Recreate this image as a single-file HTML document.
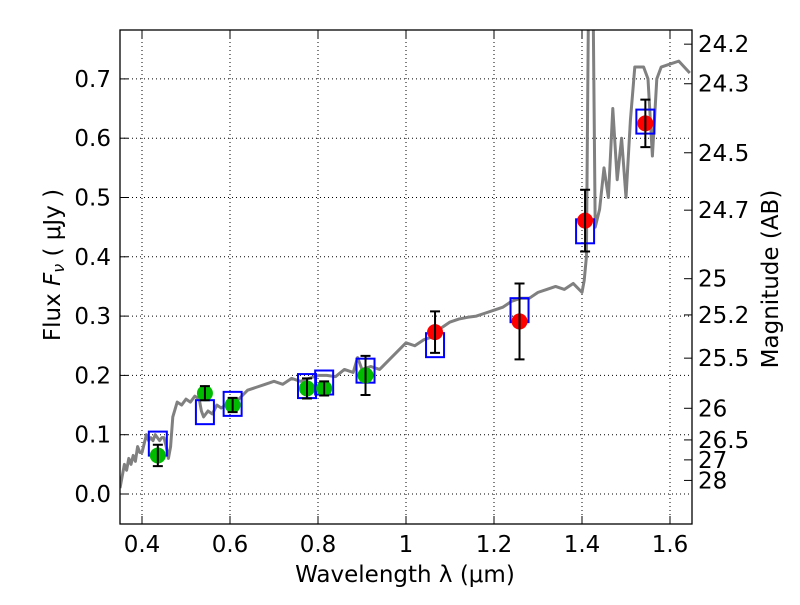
<!DOCTYPE html>
<html><head><meta charset="utf-8"><style>
body{margin:0;background:#fff;}
svg text{font-family:"DejaVu Sans","Liberation Sans",sans-serif;}
</style></head><body>
<svg id="chart" width="800" height="600" xmlns="http://www.w3.org/2000/svg">
<defs><clipPath id="clip"><rect x="120" y="30" width="572" height="494"/></clipPath></defs>
<rect x="0" y="0" width="800" height="600" fill="#fff"/>
<g id="grid"></g>
<g id="spec" clip-path="url(#clip)"></g>
<g id="marks" clip-path="url(#clip)"></g>
<rect x="120" y="30" width="572" height="494" fill="none" stroke="#000" stroke-width="1.3"/>
<g id="axes"></g>
<text x="405" y="582" font-size="23" text-anchor="middle">Wavelength  λ (μm)</text>
<text transform="translate(60,265) rotate(-90)" font-size="23" text-anchor="middle">Flux  <tspan font-style="italic">F</tspan><tspan font-size="16" font-style="italic" dy="4">ν</tspan><tspan dy="-4">  ( μJy )</tspan></text>
<text transform="translate(778,279) rotate(-90)" font-size="23" text-anchor="middle">Magnitude (AB)</text>
</svg>
<script>
const xTicks=[0.4,0.6,0.8,1,1.2,1.4,1.6];
const xTickLabels=["0.4","0.6","0.8","1","1.2","1.4","1.6"];
const yTicks=[0,0.1,0.2,0.3,0.4,0.5,0.6,0.7];
const yTickLabels=["0.0","0.1","0.2","0.3","0.4","0.5","0.6","0.7"];
const magTicks=[24.2,24.3,24.5,24.7,25,25.2,25.5,26,26.5,27,28];
const specWave=[0.35,0.355,0.36,0.365,0.37,0.375,0.38,0.385,0.39,0.395,0.40,0.405,0.41,0.415,0.42,0.425,0.43,0.435,0.44,0.445,0.45,0.455,0.46,0.465,0.47,0.48,0.49,0.50,0.51,0.52,0.53,0.535,0.54,0.55,0.56,0.57,0.58,0.59,0.60,0.62,0.64,0.66,0.68,0.70,0.72,0.74,0.76,0.78,0.80,0.82,0.84,0.86,0.88,0.89,0.90,0.92,0.94,0.96,0.98,1.00,1.02,1.04,1.06,1.08,1.10,1.12,1.14,1.16,1.18,1.20,1.22,1.24,1.26,1.28,1.30,1.32,1.34,1.36,1.38,1.40,1.405,1.41,1.415,1.425,1.43,1.44,1.45,1.46,1.47,1.48,1.49,1.50,1.51,1.52,1.54,1.55,1.56,1.57,1.58,1.60,1.62,1.645];
const specFlux=[0.01,0.03,0.05,0.04,0.06,0.05,0.065,0.055,0.08,0.07,0.07,0.085,0.10,0.09,0.095,0.09,0.10,0.095,0.09,0.095,0.095,0.08,0.06,0.08,0.13,0.155,0.15,0.16,0.155,0.165,0.16,0.14,0.13,0.14,0.135,0.15,0.145,0.15,0.15,0.16,0.175,0.18,0.185,0.19,0.185,0.195,0.19,0.195,0.20,0.20,0.198,0.21,0.205,0.23,0.21,0.215,0.21,0.225,0.24,0.255,0.25,0.26,0.265,0.28,0.29,0.295,0.298,0.30,0.305,0.31,0.315,0.325,0.33,0.33,0.34,0.345,0.35,0.345,0.355,0.34,0.36,0.40,0.85,0.85,0.45,0.48,0.55,0.50,0.65,0.53,0.60,0.50,0.63,0.72,0.72,0.70,0.57,0.70,0.72,0.725,0.73,0.71];
const obsWave=[0.436,0.543,0.606,0.775,0.814,0.908,1.066,1.258,1.407,1.544];
const obsFlux=[0.065,0.170,0.150,0.178,0.178,0.200,0.273,0.291,0.461,0.625];
const obsErr=[0.018,0.012,0.012,0.017,0.012,0.033,0.035,0.064,0.052,0.040];
const obsColor=["#00bb00","#00bb00","#00bb00","#00bb00","#00bb00","#00bb00","#ff0000","#ff0000","#ff0000","#ff0000"];
const modelFlux=[0.085,0.138,0.152,0.182,0.188,0.208,0.251,0.310,0.443,0.628];
const X=v=>142+(v-0.4)*440, Y=v=>494-v*593;
const NS="http://www.w3.org/2000/svg";
function mk(p,t,a){const e=document.createElementNS(NS,t);for(const k in a)e.setAttribute(k,a[k]);p.appendChild(e);return e;}
const grid=document.getElementById('grid'),axes=document.getElementById('axes');
xTicks.forEach((t,i)=>{const x=X(t);
 const g=mk(grid,'line',{x1:x,x2:x,y1:30,y2:524,stroke:'#000','stroke-dasharray':'1,3','stroke-width':1});
 
 mk(axes,'line',{x1:x,x2:x,y1:524,y2:516,stroke:'#000'});mk(axes,'line',{x1:x,x2:x,y1:30,y2:38,stroke:'#000'});
 const tx=mk(axes,'text',{x:x,y:552,'font-size':23,'text-anchor':'middle'});tx.textContent=xTickLabels[i];
 });
yTicks.forEach((t,i)=>{const y=Y(t);
 const g=mk(grid,'line',{x1:120,x2:692,y1:y,y2:y,stroke:'#000','stroke-dasharray':'1,3','stroke-width':1});
 
 mk(axes,'line',{x1:120,x2:128,y1:y,y2:y,stroke:'#000'});
 const tx=mk(axes,'text',{x:111,y:y+8,'font-size':23,'text-anchor':'end'});tx.textContent=yTickLabels[i];
 });
magTicks.forEach(m=>{const y=Y(Math.pow(10,(23.9-m)/2.5));
 mk(axes,'line',{x1:692,x2:684,y1:y,y2:y,stroke:'#000'});
 const tx=mk(axes,'text',{x:698,y:y+8,'font-size':23});tx.textContent=String(m);
 });
const spec=document.getElementById('spec');
const sp=mk(spec,'polyline',{points:specWave.map((w,i)=>X(w)+','+Y(specFlux[i])).join(' '),fill:'none',stroke:'#808080','stroke-width':3,'stroke-linejoin':'round'});

const marks=document.getElementById('marks');
obsWave.forEach((w,i)=>{const x=X(w);
 const b=mk(marks,'rect',{x:x-9,y:Y(modelFlux[i])-12,width:18,height:24,fill:'none',stroke:'#0000ff','stroke-width':2});
 
 const c=mk(marks,'circle',{cx:x,cy:Y(obsFlux[i]),r:8,fill:obsColor[i]});
 
 const y1=Y(obsFlux[i]+obsErr[i]),y2=Y(obsFlux[i]-obsErr[i]);
 const e=mk(marks,'path',{d:`M${x},${y1}V${y2}M${x-5},${y1}H${x+5}M${x-5},${y2}H${x+5}`,stroke:'#000','stroke-width':2,fill:'none'});
 });
</script>
</body></html>
